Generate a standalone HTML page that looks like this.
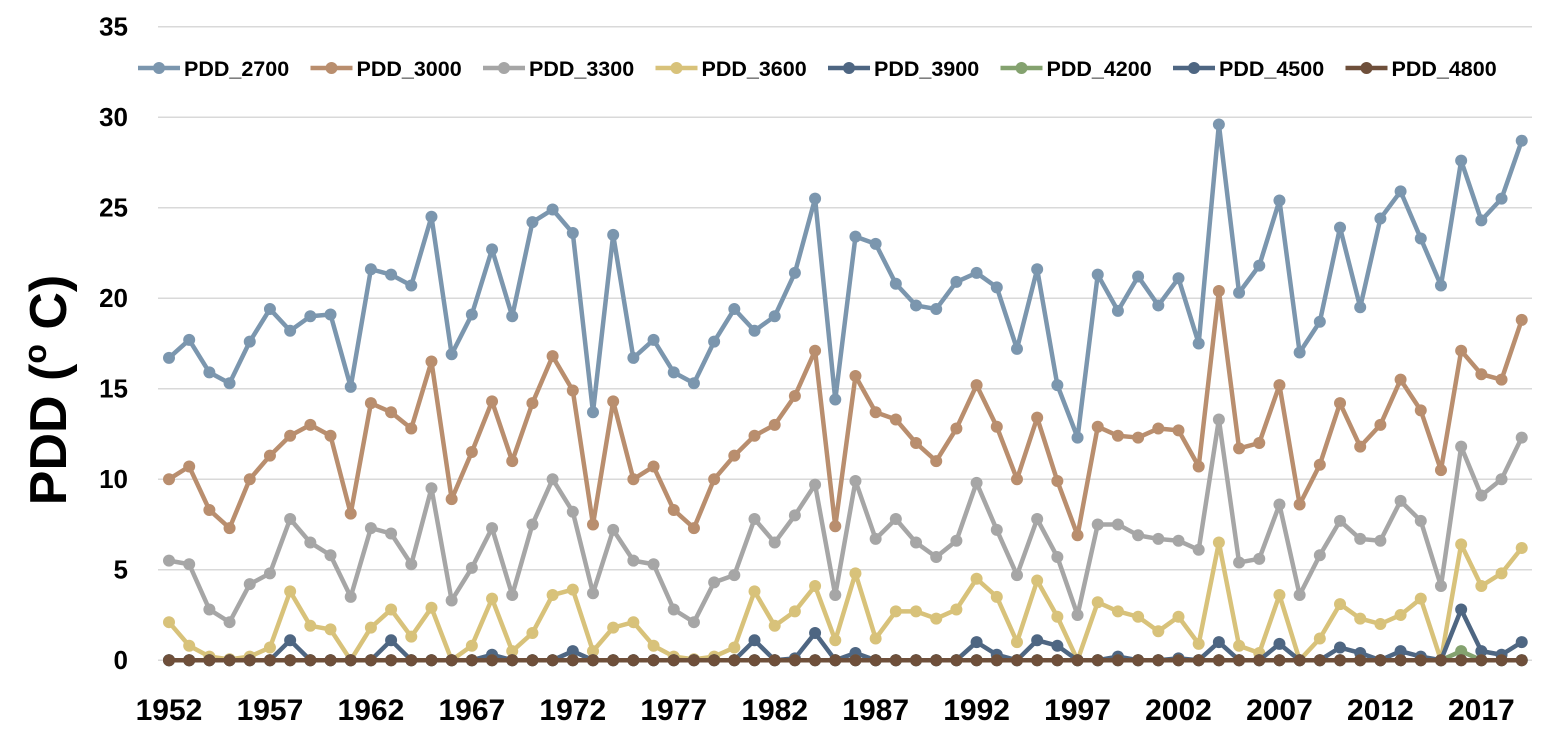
<!DOCTYPE html>
<html><head><meta charset="utf-8"><style>
body{margin:0;background:#fff;}
svg text{font-family:"Liberation Sans",sans-serif;font-weight:bold;}
</style></head><body>
<svg id="chart" width="1554" height="736" xmlns="http://www.w3.org/2000/svg"></svg>
<script>
const years = [];
for (let y = 1952; y <= 2019; y++) years.push(y);
const seriesNames = ["PDD_2700","PDD_3000","PDD_3300","PDD_3600","PDD_3900","PDD_4200","PDD_4500","PDD_4800"];
const pdd2700 = [16.7,17.7,15.9,15.3,17.6,19.4,18.2,19.0,19.1,15.1,21.6,21.3,20.7,24.5,16.9,19.1,22.7,19.0,24.2,24.9,23.6,13.7,23.5,16.7,17.7,15.9,15.3,17.6,19.4,18.2,19.0,21.4,25.5,14.4,23.4,23.0,20.8,19.6,19.4,20.9,21.4,20.6,17.2,21.6,15.2,12.3,21.3,19.3,21.2,19.6,21.1,17.5,29.6,20.3,21.8,25.4,17.0,18.7,23.9,19.5,24.4,25.9,23.3,20.7,27.6,24.3,25.5,28.7];
const pdd3000 = [10.0,10.7,8.3,7.3,10.0,11.3,12.4,13.0,12.4,8.1,14.2,13.7,12.8,16.5,8.9,11.5,14.3,11.0,14.2,16.8,14.9,7.5,14.3,10.0,10.7,8.3,7.3,10.0,11.3,12.4,13.0,14.6,17.1,7.4,15.7,13.7,13.3,12.0,11.0,12.8,15.2,12.9,10.0,13.4,9.9,6.9,12.9,12.4,12.3,12.8,12.7,10.7,20.4,11.7,12.0,15.2,8.6,10.8,14.2,11.8,13.0,15.5,13.8,10.5,17.1,15.8,15.5,18.8];
const pdd3300 = [5.5,5.3,2.8,2.1,4.2,4.8,7.8,6.5,5.8,3.5,7.3,7.0,5.3,9.5,3.3,5.1,7.3,3.6,7.5,10.0,8.2,3.7,7.2,5.5,5.3,2.8,2.1,4.3,4.7,7.8,6.5,8.0,9.7,3.6,9.9,6.7,7.8,6.5,5.7,6.6,9.8,7.2,4.7,7.8,5.7,2.5,7.5,7.5,6.9,6.7,6.6,6.1,13.3,5.4,5.6,8.6,3.6,5.8,7.7,6.7,6.6,8.8,7.7,4.1,11.8,9.1,10.0,12.3];
const pdd3600 = [2.1,0.8,0.2,0.05,0.2,0.7,3.8,1.9,1.7,0,1.8,2.8,1.3,2.9,0,0.8,3.4,0.5,1.5,3.6,3.9,0.5,1.8,2.1,0.8,0.2,0.05,0.2,0.7,3.8,1.9,2.7,4.1,1.1,4.8,1.2,2.7,2.7,2.3,2.8,4.5,3.5,1.0,4.4,2.4,0,3.2,2.7,2.4,1.6,2.4,0.9,6.5,0.8,0.4,3.6,0,1.2,3.1,2.3,2.0,2.5,3.4,0,6.4,4.1,4.8,6.2];
const pdd3900 = [0,0,0,0,0,0,1.1,0,0,0,0,1.1,0,0,0,0,0.3,0,0,0,0.5,0,0,0,0,0,0,0,0,1.1,0,0.1,1.5,0,0.4,0,0,0,0,0,1.0,0.3,0,1.1,0.8,0,0,0.2,0,0,0.1,0,1.0,0,0,0.9,0,0,0.7,0.4,0,0.5,0.2,0,2.8,0.5,0.3,1.0];
const pdd4200 = years.map((y)=> y===2016 ? 0.5 : 0);
const pdd4500 = years.map(()=>0);
const pdd4800 = years.map(()=>0);
const allSeries = [pdd2700,pdd3000,pdd3300,pdd3600,pdd3900,pdd4200,pdd4500,pdd4800];
const colors = ["#7b96ae","#b98e6e","#a6a6a6","#d8c27a","#4e6682","#84a26f","#4e6682","#6e4f3a"];
const yTicks = [0,5,10,15,20,25,30,35];
const xTickYears = [1952,1957,1962,1967,1972,1977,1982,1987,1992,1997,2002,2007,2012,2017];

const svg = document.getElementById('chart');
const NS = "http://www.w3.org/2000/svg";
const x = (yr) => 169 + (yr - 1952) * 20.19;
const y = (v) => 660.2 - v * 18.1;
function mk(tag, attrs, parent){
  const e = document.createElementNS(NS, tag);
  for (const k in attrs) e.setAttribute(k, attrs[k]);
  (parent||svg).appendChild(e);
  return e;
}
yTicks.forEach(t=>{
  if (t>0){
    const g = mk('line',{x1:158,x2:1532,y1:y(t),y2:y(t),stroke:'#d9d9d9','stroke-width':1.5});
    
    
  }
  const lb = mk('text',{x:128,y:y(t)+9,'text-anchor':'end','font-size':26,fill:'#000'});
  lb.textContent = t;
  
  
});
const axis = mk('line',{x1:158,x2:1532,y1:y(0),y2:y(0),stroke:'#d9d9d9','stroke-width':1.5});


xTickYears.forEach(yr=>{
  const lb = mk('text',{x:x(yr),y:720,'text-anchor':'middle','font-size':30,fill:'#000'});
  lb.textContent = yr;
  
  
});
const yt = mk('text',{transform:'translate(66,390) rotate(-90)','text-anchor':'middle','font-size':52,fill:'#000'});
yt.innerHTML = 'PDD (<tspan font-size="32" dy="-20">o</tspan><tspan dy="20"> C)</tspan>';



allSeries.forEach((data,si)=>{
  const g = mk('g',{});
  
  
  const pts = data.map((v,i)=>x(years[i])+','+y(v)).join(' ');
  mk('polyline',{points:pts,fill:'none',stroke:colors[si],'stroke-width':4.5,'stroke-linejoin':'round'},g);
  data.forEach((v,i)=>{
    const c = mk('circle',{cx:x(years[i]),cy:y(v),r:6,fill:colors[si]},g);
    
    
  });
});
// legend
const legendStart = 138, legendStep = 172.5;
seriesNames.forEach((n,i)=>{
  const g = mk('g',{});
  
  
  const lx = legendStart + i*legendStep;
  mk('line',{x1:lx,x2:lx+42,y1:68,y2:68,stroke:colors[i],'stroke-width':4.5},g);
  mk('circle',{cx:lx+21,cy:68,r:6,fill:colors[i]},g);
  const t = mk('text',{x:lx+46,y:76,'font-size':21.5,fill:'#000'},g);
  t.textContent = n;
});
</script>
</body></html>
